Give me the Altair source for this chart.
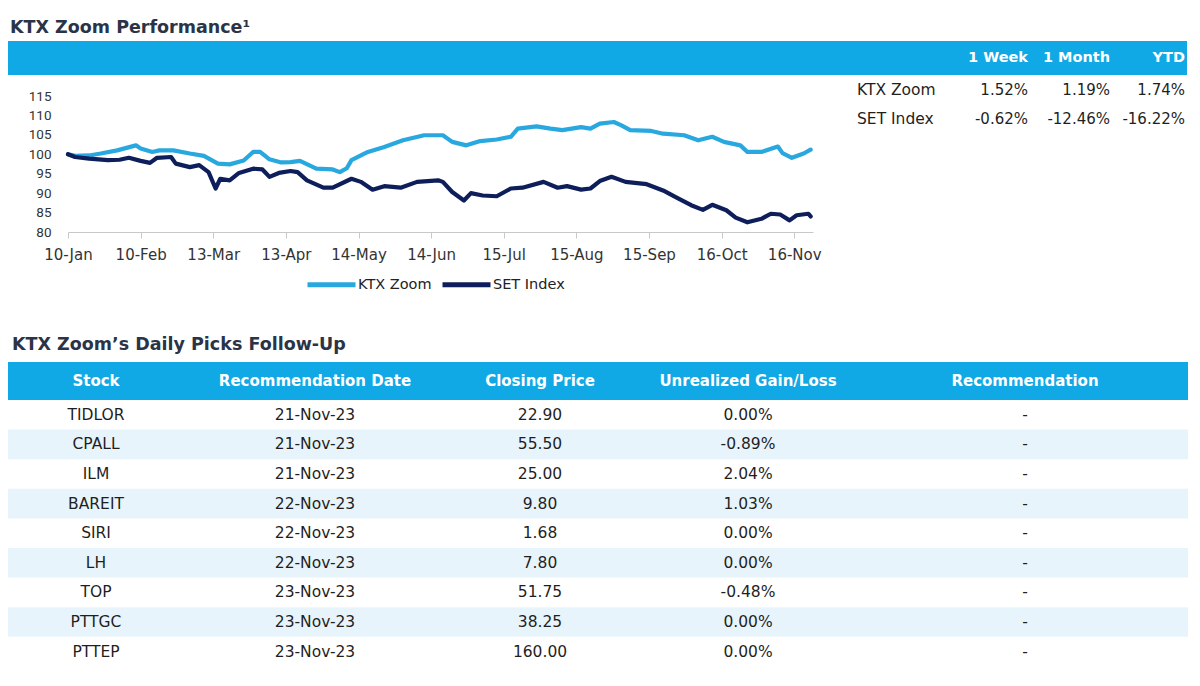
import altair as alt
import pandas as pd

# ---------------- data ----------------
ktx_dates = ["2023-01-10", "2023-01-13", "2023-01-19", "2023-01-24", "2023-01-31", "2023-02-08",
             "2023-02-10", "2023-02-15", "2023-02-18", "2023-02-24", "2023-03-03", "2023-03-09",
             "2023-03-15", "2023-03-20", "2023-03-26", "2023-03-30", "2023-04-02", "2023-04-06",
             "2023-04-11", "2023-04-15", "2023-04-19", "2023-04-26", "2023-05-03", "2023-05-06",
             "2023-05-09", "2023-05-11", "2023-05-18", "2023-05-25", "2023-06-02", "2023-06-11",
             "2023-06-19", "2023-06-23", "2023-06-29", "2023-07-05", "2023-07-12", "2023-07-18",
             "2023-07-21", "2023-07-29", "2023-08-04", "2023-08-09", "2023-08-17", "2023-08-21",
             "2023-08-25", "2023-08-31", "2023-09-03", "2023-09-07", "2023-09-16", "2023-09-21",
             "2023-09-30", "2023-10-06", "2023-10-12", "2023-10-17", "2023-10-24", "2023-10-27",
             "2023-11-02", "2023-11-09", "2023-11-11", "2023-11-15", "2023-11-20", "2023-11-23"]
ktx_values = [100.0, 99.6, 99.7, 100.2, 101.0, 102.3,
              101.5, 100.6, 101.0, 101.0, 100.2, 99.6,
              97.6, 97.4, 98.4, 100.6, 100.6, 98.7,
              97.9, 98.0, 98.3, 96.3, 96.1, 95.4,
              96.4, 98.5, 100.6, 101.9, 103.6, 104.9,
              104.9, 103.2, 102.3, 103.4, 103.8, 104.5,
              106.6, 107.2, 106.6, 106.2, 107.0, 106.6,
              107.9, 108.3, 107.5, 106.2, 106.0, 105.3,
              104.9, 103.6, 104.5, 103.2, 102.3, 100.6,
              100.6, 102.0, 100.3, 99.1, 100.2, 101.2]

set_dates = ["2023-01-10", "2023-01-13", "2023-01-19", "2023-01-27", "2023-02-01", "2023-02-05",
             "2023-02-10", "2023-02-14", "2023-02-17", "2023-02-23", "2023-02-25", "2023-03-03",
             "2023-03-07", "2023-03-11", "2023-03-14", "2023-03-16", "2023-03-20", "2023-03-24",
             "2023-03-30", "2023-04-03", "2023-04-06", "2023-04-10", "2023-04-15", "2023-04-18",
             "2023-04-22", "2023-04-29", "2023-05-03", "2023-05-11", "2023-05-15", "2023-05-20",
             "2023-05-25", "2023-06-01", "2023-06-08", "2023-06-17", "2023-06-19", "2023-06-23",
             "2023-06-28", "2023-07-01", "2023-07-06", "2023-07-12", "2023-07-18", "2023-07-23",
             "2023-08-01", "2023-08-07", "2023-08-11", "2023-08-17", "2023-08-21", "2023-08-25",
             "2023-08-30", "2023-09-05", "2023-09-14", "2023-09-21", "2023-09-27", "2023-10-03",
             "2023-10-08", "2023-10-12", "2023-10-18", "2023-10-22", "2023-10-27", "2023-11-02",
             "2023-11-06", "2023-11-10", "2023-11-14", "2023-11-17", "2023-11-22", "2023-11-23"]
set_values = [100.0, 99.3, 98.9, 98.5, 98.6, 99.1,
              98.3, 97.8, 99.1, 99.3, 97.6, 96.7,
              97.2, 95.4, 91.2, 93.7, 93.3, 95.2,
              96.3, 96.1, 94.2, 95.2, 95.7, 95.4,
              93.3, 91.4, 91.4, 93.7, 92.9, 90.9,
              91.8, 91.4, 92.9, 93.3, 92.9, 90.3,
              88.1, 90.0, 89.4, 89.2, 91.2, 91.4,
              92.9, 91.4, 91.8, 90.9, 91.2, 93.1,
              94.2, 92.9, 92.3, 90.7, 88.8, 86.9,
              85.7, 87.0, 85.6, 83.7, 82.5, 83.4,
              84.7, 84.5, 83.0, 84.3, 84.7, 84.0]

series_names = ["KTX Zoom", "SET Index"]
x_tick_dates = ["2023-01-10", "2023-02-10", "2023-03-13", "2023-04-13", "2023-05-14", "2023-06-14",
                "2023-07-15", "2023-08-15", "2023-09-15", "2023-10-16", "2023-11-16"]
x_domain_dates = ["2023-01-10", "2023-11-24"]
y_ticks = [80, 85, 90, 95, 100, 105, 110, 115]

perf_headers = ["1 Week", "1 Month", "YTD"]
perf_rows = ["KTX Zoom", "SET Index"]
perf_ktx = [1.52, 1.19, 1.74]
perf_set = [-0.62, -12.46, -16.22]

pick_headers = ["Stock", "Recommendation Date", "Closing Price", "Unrealized Gain/Loss", "Recommendation"]
stocks = ["TIDLOR", "CPALL", "ILM", "BAREIT", "SIRI", "LH", "TOP", "PTTGC", "PTTEP"]
rec_dates = ["21-Nov-23", "21-Nov-23", "21-Nov-23", "22-Nov-23", "22-Nov-23", "22-Nov-23",
             "23-Nov-23", "23-Nov-23", "23-Nov-23"]
closing = [22.90, 55.50, 25.00, 9.80, 1.68, 7.80, 51.75, 38.25, 160.00]
gain = [0.00, -0.89, 2.04, 1.03, 0.00, 0.00, -0.48, 0.00, 0.00]
recommend = ["-", "-", "-", "-", "-", "-", "-", "-", "-"]

title_1 = "KTX Zoom Performance\u00b9"
title_2 = "KTX Zoom\u2019s Daily Picks Follow-Up"

# ---------------- styles / layout ----------------
W, H = 1184, 670
FONT = "DejaVu Sans"
BLUE = "#10A8E5"
SHADE = "#E8F4FB"
TXT = "#1F1F1F"
TITLE_C = "#2B3446"
LIGHT = "#29A8E0"
NAVY = "#0D1E5A"
AXIS_C = "#C8C8C8"

LC_XRANGE = [60, 805]
LC_YRANGE = [224, 88]

# performance table: column widths (chart area, label, 1W, 1M, YTD), rows
PERF_W = [841, 109, 72, 82, 75]
PERF_ROW_PX = 29
PERF_HEAD = 34 / 29
PERF_YRANGE = [33, 33 + 34 + 2 * 29]

# picks table
PICK_W = [176, 262, 188, 228, 326]
PICK_HEAD = 38 / 29.6
PICK_YRANGE = [354, 354 + 38 + 9 * 29.6]


def edges(widths):
    e = [0]
    for w in widths:
        e.append(e[-1] + w)
    return e


PERF_E = edges(PERF_W)
PICK_E = edges(PICK_W)


def lin(domain, rng):
    return alt.Scale(domain=domain, range=rng, nice=False, zero=False)


def px(field, e):
    return alt.X(field, type="quantitative", scale=lin([0, e[-1]], [0, e[-1]]), axis=None)


def perf_y(field):
    return alt.Y(field, type="quantitative", scale=lin([-PERF_HEAD, 2], PERF_YRANGE), axis=None)


def pick_y(field):
    return alt.Y(field, type="quantitative", scale=lin([-PICK_HEAD, 9], PICK_YRANGE), axis=None)


def dt(s):
    y, m, d = (int(p) for p in s.split("-"))
    return alt.DateTime(year=y, month=m, date=d)


# ---------------- line chart ----------------
line_df = pd.DataFrame({
    "date": [d + "T00:00:00" for d in ktx_dates] + [d + "T00:00:00" for d in set_dates],
    "value": ktx_values + set_values,
    "series": [series_names[0]] * len(ktx_dates) + [series_names[1]] * len(set_dates),
})

lines = alt.Chart(line_df).mark_line(strokeWidth=4.2, strokeJoin="round", strokeCap="round").encode(
    x=alt.X("date:T",
            scale=alt.Scale(domain=[dt(d) for d in x_domain_dates], range=LC_XRANGE),
            axis=alt.Axis(values=[dt(d) for d in x_tick_dates], format="%d-%b", title=None,
                          orient="bottom", offset=-(H - LC_YRANGE[0]), grid=False,
                          domainColor=AXIS_C, tickColor=AXIS_C, tickSize=6, domainWidth=1,
                          labelFont=FONT, labelFontSize=15, labelColor="#333333",
                          labelPadding=9, labelFlush=False, labelOverlap=False, labelBound=False)),
    y=alt.Y("value:Q",
            scale=lin([80, 115], LC_YRANGE),
            axis=alt.Axis(values=y_ticks, title=None, orient="left", offset=-LC_XRANGE[0],
                          domain=False, ticks=False, tickSize=0, grid=False, labelPadding=17,
                          labelFont="Roboto", labelFontSize=13.5, labelColor="#333333")),
    color=alt.Color("series:N",
                    scale=alt.Scale(domain=series_names, range=[LIGHT, NAVY]),
                    legend=alt.Legend(orient="none", legendX=297, legendY=250, direction="horizontal",
                                      title=None, symbolType="stroke", symbolSize=2304,
                                      symbolStrokeWidth=5, labelFont=FONT, labelFontSize=14.5,
                                      labelColor="#222222", labelOffset=0, columnPadding=0)),
    order=alt.Order("series:N", sort="descending"),
)

# ---------------- performance table ----------------
perf_bar = alt.Chart(pd.DataFrame({"x0": [0], "x1": [PERF_E[-1]], "y0": [-PERF_HEAD], "y1": [0]})).mark_rect(
    color=BLUE).encode(x=px("x0", PERF_E), x2="x1", y=perf_y("y0"), y2="y1")

title1_df = pd.DataFrame({"x": [2], "y": [-PERF_HEAD - 8.3 / PERF_ROW_PX], "t": [title_1]})
title1 = alt.Chart(title1_df).mark_text(font=FONT, fontSize=17.5, fontWeight="bold", color=TITLE_C,
                                        align="left", baseline="alphabetic").encode(
    x=px("x", PERF_E), y=perf_y("y"), text="t:N")

perf_head_df = pd.DataFrame({"x": [PERF_E[i + 3] - 2 for i in range(3)],
                             "y": [-PERF_HEAD / 2] * 3, "t": perf_headers})
perf_head = alt.Chart(perf_head_df).mark_text(font=FONT, fontSize=14.5, fontWeight="bold", color="white",
                                              align="right", baseline="middle").encode(
    x=px("x", PERF_E), y=perf_y("y"), text="t:N")

perf_lab_df = pd.DataFrame({"x": [PERF_E[1] + 8] * 2, "y": [0.5, 1.5], "t": perf_rows})
perf_lab = alt.Chart(perf_lab_df).mark_text(font=FONT, fontSize=15.5, color=TXT,
                                            align="left", baseline="middle").encode(
    x=px("x", PERF_E), y=perf_y("y"), text="t:N")

pv = []
for r, vals in enumerate([perf_ktx, perf_set]):
    for c, v in enumerate(vals):
        pv.append({"x": PERF_E[c + 3] - 2, "y": r + 0.5, "t": f"{v:.2f}%"})
perf_val = alt.Chart(pd.DataFrame(pv)).mark_text(font=FONT, fontSize=15, color=TXT,
                                                 align="right", baseline="middle").encode(
    x=px("x", PERF_E), y=perf_y("y"), text="t:N")

# ---------------- picks table ----------------
title2_df = pd.DataFrame({"x": [4], "y": [-PICK_HEAD - 12.5 / 29.6], "t": [title_2]})
title2 = alt.Chart(title2_df).mark_text(font=FONT, fontSize=17.5, fontWeight="bold", color=TITLE_C,
                                        align="left", baseline="alphabetic").encode(
    x=px("x", PICK_E), y=pick_y("y"), text="t:N")

shade_rows = [i for i in range(len(stocks)) if i % 2 == 1]
shade_df = pd.DataFrame({"x0": [0] * len(shade_rows), "x1": [PICK_E[-1]] * len(shade_rows),
                         "y0": shade_rows, "y1": [i + 1 for i in shade_rows]})
shade = alt.Chart(shade_df).mark_rect(color=SHADE).encode(
    x=px("x0", PICK_E), x2="x1", y=pick_y("y0"), y2="y1")

pick_bar = alt.Chart(pd.DataFrame({"x0": [0], "x1": [PICK_E[-1]], "y0": [-PICK_HEAD], "y1": [0]})).mark_rect(
    color=BLUE).encode(x=px("x0", PICK_E), x2="x1", y=pick_y("y0"), y2="y1")

pick_head_df = pd.DataFrame({"x": [(PICK_E[i] + PICK_E[i + 1]) / 2 for i in range(5)],
                             "y": [-PICK_HEAD / 2] * 5, "t": pick_headers})
pick_head = alt.Chart(pick_head_df).mark_text(font=FONT, fontSize=15, fontWeight="bold", color="white",
                                              align="center", baseline="middle").encode(
    x=px("x", PICK_E), y=pick_y("y"), text="t:N")

cells = []
for i in range(len(stocks)):
    row = [stocks[i], rec_dates[i], f"{closing[i]:.2f}", f"{gain[i]:.2f}%", recommend[i]]
    for j, t in enumerate(row):
        cells.append({"x": (PICK_E[j] + PICK_E[j + 1]) / 2, "y": i + 0.5, "t": t})
pick_body = alt.Chart(pd.DataFrame(cells)).mark_text(font=FONT, fontSize=15.5, color=TXT,
                                                     align="center", baseline="middle").encode(
    x=px("x", PICK_E), y=pick_y("y"), text="t:N")

chart = alt.layer(
    perf_bar, title1, perf_head, perf_lab, perf_val, lines,
    title2, shade, pick_bar, pick_head, pick_body,
).resolve_scale(x="independent", y="independent").properties(
    width=W, height=H, autosize="none", padding=0, background="white"
).configure_view(stroke=None)

chart.save("out.html", embed_options={"renderer": "svg", "actions": False})
